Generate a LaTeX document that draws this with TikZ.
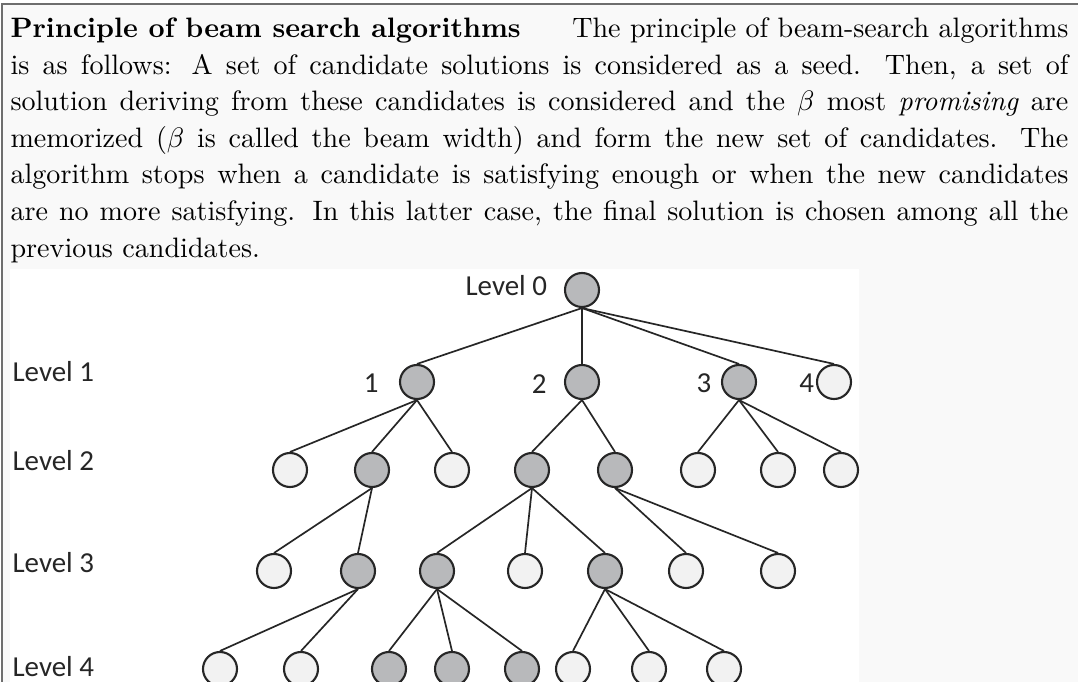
\documentclass[tikz,border=0pt]{standalone}
\usepackage{fontspec}
\usetikzlibrary{positioning}

\newfontfamily\lblfont{Carlito}

\definecolor{pagegray}{HTML}{F9F9F9}
\definecolor{keptfill}{HTML}{B8B9BB}
\definecolor{dropfill}{HTML}{F2F2F2}
\definecolor{inkgray}{HTML}{262626}
\definecolor{framegray}{HTML}{6E6E6E}

\tikzset{
	cand/.style={circle, draw=inkgray, line width=0.75pt, minimum size=12.1pt, inner sep=0pt},
	kept/.style={cand, fill=keptfill},
	dropped/.style={cand, fill=dropfill},
	branch/.style={draw=inkgray, line width=0.6pt},
	lvl/.style={font=\lblfont\fontsize{10.3}{12}\selectfont, text=inkgray, inner sep=0pt, anchor=base west},
	rank/.style={font=\lblfont\fontsize{10.3}{12}\selectfont, text=inkgray, inner sep=0pt, yshift=-0.6pt}
}

\begin{document}
\begin{tikzpicture}[x=0.3559pt, y=-0.3559pt]
		
		% ==========================================
		% PAGE, FRAME & TEXT
		% ==========================================
		\useasboundingbox (0,0) rectangle (1078,682);
		\fill[white] (0,0) rectangle (1078,682);
		\fill[pagegray] (2,4) rectangle (1078,682);
		\fill[white] (10,269) rectangle (859,682);
		\draw[framegray, line width=0.4pt] (2,682) -- (2,4) -- (1078,4);
		
		\node[anchor=north west, inner sep=0pt, text width=376.5pt, align=justify,
			font=\fontsize{10}{13}\selectfont] (intro) at (10,17.5) {%
			\noindent\textbf{Principle of beam search algorithms}\hfill The principle of beam-search algorithms\linebreak
			is as follows: A set of candidate solutions is considered as a seed. Then, a set of\linebreak
			solution deriving from these candidates is considered and the $\beta$ most \emph{promising} are\linebreak
			memorized ($\beta$ is called the beam width) and form the new set of candidates. The\linebreak
			algorithm stops when a candidate is satisfying enough or when the new candidates\linebreak
			are no more satisfying. In this latter case, the final solution is chosen among all the\linebreak
			previous candidates.};
		
		% ==========================================
		% CANDIDATES, LEVEL BY LEVEL
		% ==========================================
		\node[kept] (root) at (582,290) {};
		
		\node[kept]    (c1) at (417,382) {};
		\node[kept]    (c2) at (582,382) {};
		\node[kept]    (c3) at (739,382) {};
		\node[dropped] (c4) at (834,382) {};
		
		\node[dropped] (d1) at (290,470) {};
		\node[kept]    (d2) at (372,470) {};
		\node[dropped] (d3) at (452,470) {};
		\node[kept]    (d4) at (532,470) {};
		\node[kept]    (d5) at (615,470) {};
		\node[dropped] (d6) at (698,470) {};
		\node[dropped] (d7) at (778,470) {};
		\node[dropped] (d8) at (841,470) {};
		
		\node[dropped] (e1) at (274,571) {};
		\node[kept]    (e2) at (358,571) {};
		\node[kept]    (e3) at (437,571) {};
		\node[dropped] (e4) at (525,571) {};
		\node[kept]    (e5) at (605,571) {};
		\node[dropped] (e6) at (686,571) {};
		\node[dropped] (e7) at (778,571) {};
		
		\node[dropped] (f1) at (220,669) {};
		\node[dropped] (f2) at (301,669) {};
		\node[kept]    (f3) at (389,669) {};
		\node[kept]    (f4) at (452,669) {};
		\node[kept]    (f5) at (522,669) {};
		\node[dropped] (f6) at (573,669) {};
		\node[dropped] (f7) at (649,669) {};
		\node[dropped] (f8) at (724,669) {};
		
		% branches: parent bottom to child top
		\foreach \a/\b in {root/c1, root/c2, root/c3, root/c4,
			c1/d1, c1/d2, c1/d3, c2/d4, c2/d5, c3/d6, c3/d7, c3/d8,
			d2/e1, d2/e2, d4/e3, d4/e4, d4/e5, d5/e6, d5/e7,
			e2/f1, e2/f2, e3/f3, e3/f4, e3/f5, e5/f6, e5/f7, e5/f8}
			\draw[branch] (\a.south) -- (\b.north);
		
		% ==========================================
		% LABELS
		% ==========================================
		\node[lvl] (lv0) at (465,296) {Level 0};
		\node[lvl] (lv1) at (12,382) {Level 1};
		\node[lvl] (lv2) at (12,471) {Level 2};
		\node[lvl] (lv3) at (12,572) {Level 3};
		\node[lvl] (lv4) at (12,676) {Level 4};
		
		\node[rank, left=7.1pt of c1] (r1) {1};
		\node[rank, left=6.0pt of c2] (r2) {2};
		\node[rank, left=3.2pt of c3] (r3) {3};
		\node[rank, left=0.5pt of c4] (r4) {4};
		
	\end{tikzpicture}
\end{document}
